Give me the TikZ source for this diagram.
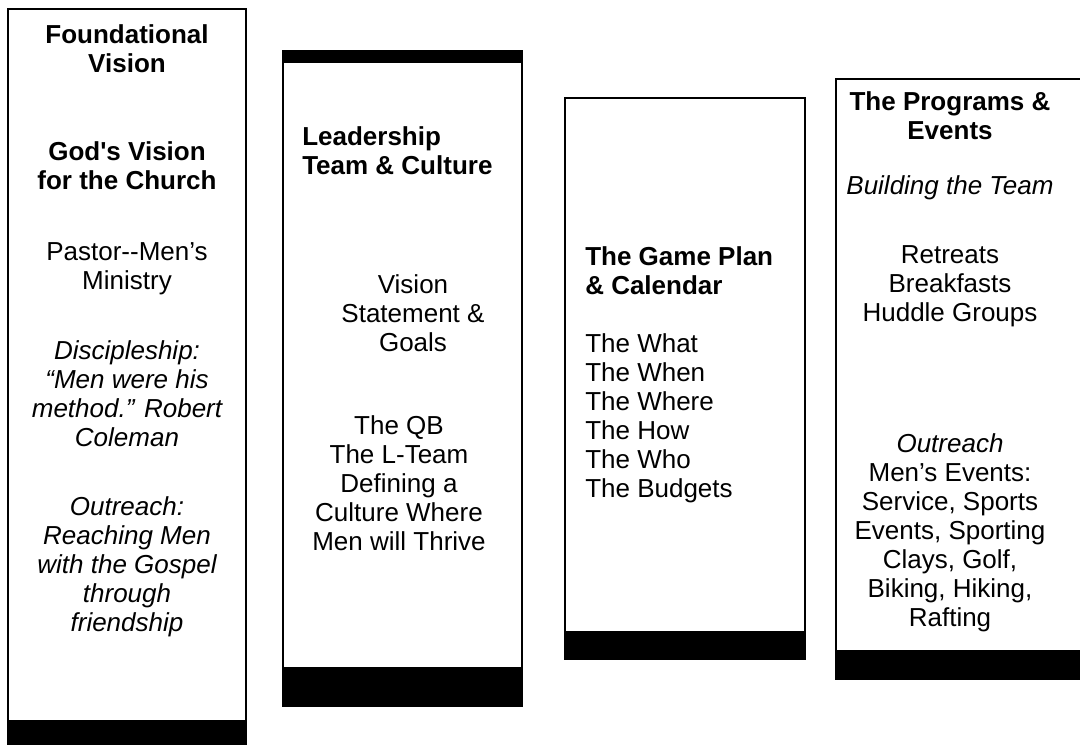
\documentclass[tikz,border=0pt]{standalone}
\usepackage{fontspec}
\setmainfont{Liberation Sans}
\usepackage{tikz}
\tikzstyle{panel} = [draw=black, line width=1.5pt, fill=white]
\tikzstyle{band} = [fill=black]
\tikzstyle{body} = [inner sep=0pt, anchor=north, align=center,
                    font=\fontsize{19.5}{21.75}\selectfont]
\tikzstyle{head} = [body, font=\fontsize{19.5}{21.75}\selectfont\bfseries]
\tikzstyle{quote} = [body, font=\fontsize{19.5}{21.75}\selectfont\itshape]

\begin{document}
\begin{tikzpicture}[x=0.75pt, y=-0.75pt]
\useasboundingbox (0,0) rectangle (1080,744);
\clip (0,0) rectangle (1080,744);

% the four panels
\draw [panel] (8,9) rectangle (246,760);
\fill [band] (8,720) rectangle (247,760);
\draw [panel] (283,56) rectangle (522,706);
\fill [band] (282,50) rectangle (523,63);
\fill [band] (282,667) rectangle (523,706);
\draw [panel] (565,98) rectangle (805,659);
\fill [band] (564,631) rectangle (806,659);
\draw [panel] (836,79) rectangle (1100,679);
\fill [band] (835,650) rectangle (1100,679);

% foundational vision
\node (found) [head] at (127,24) {Foundational\\Vision};
\node (godvis) [head] at (127,141) {God\textquotesingle s Vision\\for the Church};
\node (pastor) [body] at (127,242) {Pastor-{}-Men’s\\Ministry};
\node (disc) [quote] at (127,340) {Discipleship:\\“Men were his\\method.” Robert\\Coleman};
\node (reach) [quote] at (127,496) {Outreach:\\Reaching Men\\with the Gospel\\through\\friendship};

% leadership
\node (lead) [head, anchor=north west, align=left] at (302,126) {Leadership\\Team \& Culture};
\node (stmt) [body] at (413,274) {Vision\\Statement \&\\Goals};
\node (qb) [body] at (399,415) {The QB\\The L-Team\\Defining a\\Culture Where\\Men will Thrive};

% game plan
\node (plan) [head, anchor=north west, align=left] at (585,246) {The Game Plan\\\& Calendar};
\node (what) [body, anchor=north west, align=left] at (585,333) {The What\\The When\\The Where\\The How\\The Who\\The Budgets};

% programs
\node (prog) [head] at (950,91) {The Programs \&\\Events};
\node (build) [quote] at (950,175) {Building the Team};
\node (retreat) [body] at (950,245) {Retreats\\Breakfasts\\Huddle Groups};
\node (out) [body] at (950,433) {\textit{Outreach}\\Men’s Events:\\Service, Sports\\Events, Sporting\\Clays, Golf,\\Biking, Hiking,\\Rafting};
\end{tikzpicture}
\end{document}
